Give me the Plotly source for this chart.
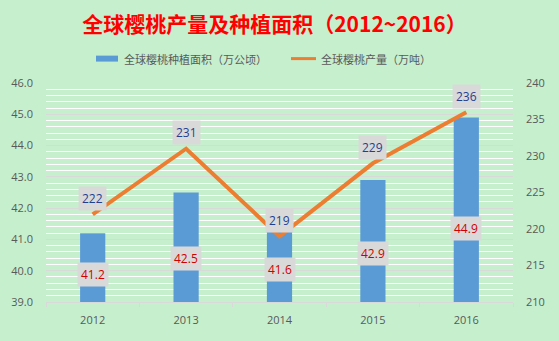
import plotly.graph_objects as go

# Global cherry statistics, 2012-2016
years = ["2012", "2013", "2014", "2015", "2016"]
area = [41.2, 42.5, 41.6, 42.9, 44.9]        # planting area, 10k hectares
output = [222, 231, 219, 229, 236]           # production, 10k tonnes

left_ticks = [39.0, 40.0, 41.0, 42.0, 43.0, 44.0, 45.0, 46.0]
right_ticks = [210, 215, 220, 225, 230, 235, 240]

area_name = "全球樱桃种植面积（万公顷）"
output_name = "全球樱桃产量（万吨）"

BG = "#c6efce"
BAR_COLOR = "#5b9bd5"
LINE_COLOR = "#ed7d31"
TICK_FONT = dict(family="Open Sans, Noto Sans CJK SC", size=11, color="#595959")

# category slots on the x axis
xpos = list(range(len(years)))

fig = go.Figure()

fig.add_trace(go.Bar(
    x=xpos, y=area, name=area_name,
    marker=dict(color=BAR_COLOR, line=dict(width=0)),
    width=0.27, yaxis="y", showlegend=False,
))

fig.add_trace(go.Scatter(
    x=xpos, y=output, name=output_name,
    mode="lines", line=dict(color=LINE_COLOR, width=4),
    yaxis="y2", showlegend=False,
))

annotations = []
# Production labels just above each line point
for xp, v in zip(xpos, output):
    annotations.append(dict(
        x=xp, y=v, xref="x", yref="y2", text=str(v), showarrow=False,
        yshift=16, bgcolor="#d9d9d9", borderpad=3,
        font=dict(family="Open Sans, Noto Sans CJK SC", size=12, color="#1f3f8f"),
    ))
# Area labels inside the lower part of each bar
for xp, v in zip(xpos, area):
    annotations.append(dict(
        x=xp, y=39 + (v - 39) * 0.4, xref="x", yref="y", text=f"{v:.1f}",
        showarrow=False, bgcolor="#d9d9d9", borderpad=3,
        font=dict(family="Open Sans, Noto Sans CJK SC", size=12, color="#d00000"),
    ))

# Legend row: swatches drawn as shapes, names as text
LEG_FONT = dict(family="Noto Sans CJK SC", size=11, color="#595959")
shapes = [
    dict(type="rect", xref="paper", yref="paper",
         x0=(96 - 46) / 467, x1=(118 - 46) / 467,
         y0=(302.5 - 61) / 220, y1=(302.5 - 55) / 220,
         fillcolor=BAR_COLOR, line=dict(width=0)),
    dict(type="line", xref="paper", yref="paper",
         x0=(291 - 46) / 467, x1=(316 - 46) / 467,
         y0=(302.5 - 58) / 220, y1=(302.5 - 58) / 220,
         line=dict(color=LINE_COLOR, width=3)),
]
annotations += [
    dict(xref="paper", yref="paper", x=(122 - 46) / 467, y=(302.5 - 58) / 220,
         xanchor="left", yanchor="middle", text=area_name, showarrow=False,
         font=LEG_FONT),
    dict(xref="paper", yref="paper", x=(319 - 46) / 467, y=(302.5 - 58) / 220,
         xanchor="left", yanchor="middle", text=output_name, showarrow=False,
         font=LEG_FONT),
]

fig.update_layout(
    width=559, height=341,
    margin=dict(l=46, r=46, t=82.5, b=38.5),
    paper_bgcolor=BG, plot_bgcolor=BG,
    title=dict(
        text="<b>全球樱桃产量及种植面积（2012~2016）</b>",
        x=(274.5) / 559, xanchor="center", y=1 - 25 / 341, yanchor="middle",
        font=dict(family="Noto Sans CJK SC", size=21, color="#ff0000"),
    ),
    showlegend=False,
    annotations=annotations,
    shapes=shapes,
    xaxis=dict(
        range=[-0.5, len(years) - 0.5], tickvals=xpos, ticktext=years,
        showgrid=False, zeroline=False,
        showline=True, linecolor="#d9d9d9", linewidth=1,
        ticks="", tickfont=TICK_FONT, ticklabelstandoff=8,
        minor=dict(tick0=-0.5, dtick=1, ticks="outside", ticklen=4,
                   tickcolor="#d9d9d9", showgrid=False),
    ),
    yaxis=dict(
        range=[39, 46], tickvals=left_ticks,
        ticktext=[f"{t:.1f}" for t in left_ticks],
        showgrid=True, gridcolor="#d9d9d9", gridwidth=1,
        minor=dict(dtick=0.2, showgrid=True, gridcolor="#ffffff", gridwidth=1),
        zeroline=False, showline=False, tickfont=TICK_FONT, ticklabelstandoff=12,
    ),
    yaxis2=dict(
        range=[210, 240], tickvals=right_ticks, overlaying="y", side="right",
        showgrid=False, zeroline=False, showline=False, tickfont=TICK_FONT,
        ticklabelstandoff=12,
    ),
)

fig.write_html("out.html")
